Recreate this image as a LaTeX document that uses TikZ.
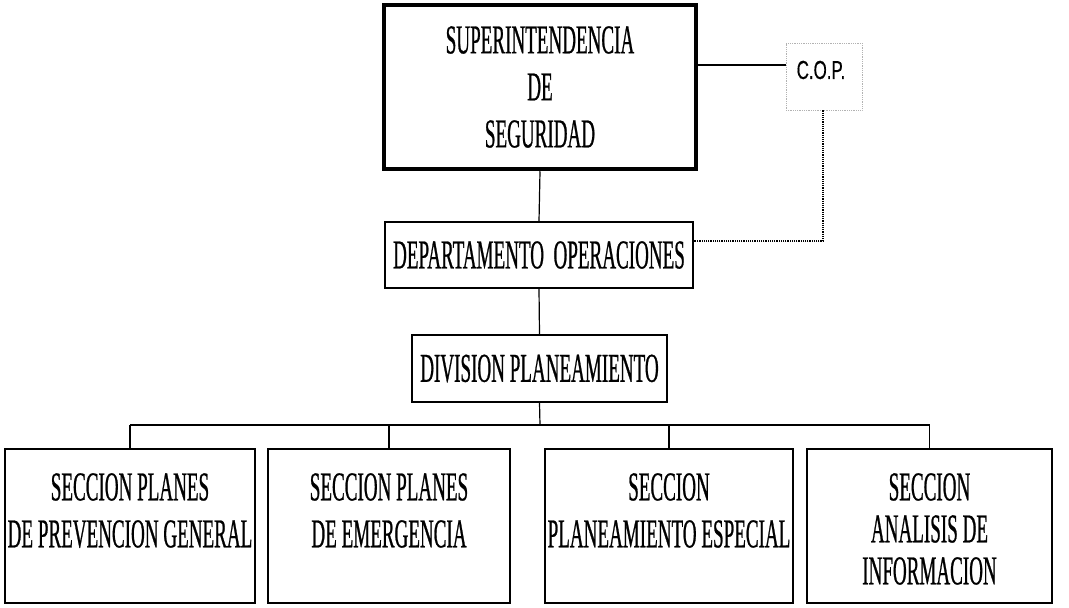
\documentclass[tikz,border=0pt]{standalone}
\usepackage{fontspec}
\setmainfont[FakeStretch=0.465,FakeBold=0.6]{Liberation Serif}
\newfontfamily\copfont[FakeStretch=0.65,FakeBold=0.4]{Liberation Sans}
\begin{document}
\begin{tikzpicture}[x=1pt,y=-1pt,
  box/.style={draw,line width=1.4pt,inner sep=0pt},
  txt/.style={font=\fontsize{41}{47}\selectfont,align=center,inner sep=0pt},
  conn/.style={line width=1.2pt}]
\useasboundingbox (0,0) rectangle (1069,608);
% top
\node[box,line width=4.5pt,minimum width=312pt,minimum height=164pt,txt,font=\fontsize{41}{47}\selectfont] (top) at (540,87) {SUPERINTENDENCIA\\DE\\SEGURIDAD};
% COP
\node[draw=gray!60,densely dotted,line width=0.8pt,minimum width=76pt,minimum height=67pt,inner sep=0pt] (cop) at (824,76.5) {};
\node[font=\copfont\fontsize{26}{30}\selectfont,inner sep=0pt] (coptxt) at (821,70) {C.O.P.};
% dept
\node[box,minimum width=308pt,minimum height=66pt,txt] (dept) at (539,255) {DEPARTAMENTO~~OPERACIONES};
% div
\node[box,minimum width=255pt,minimum height=67pt,txt] (div) at (539.5,368.5) {DIVISION PLANEAMIENTO};
% bottom boxes
\node[box,minimum width=250pt,minimum height=154pt] (b1) at (130,526) {};
\node[box,minimum width=242pt,minimum height=154pt] (b2) at (389,526) {};
\node[box,minimum width=248pt,minimum height=154pt] (b3) at (669,526) {};
\node[box,minimum width=245pt,minimum height=154pt] (b4) at (929.5,526) {};
\node[txt,anchor=north] (t1) at (130,473) {SECCION PLANES\\DE PREVENCION GENERAL};
\node[txt,anchor=north] (t2) at (389,473) {SECCION PLANES\\DE EMERGENCIA};
\node[txt,anchor=north] (t3) at (669,473) {SECCION\\PLANEAMIENTO ESPECIAL};
\node[txt,anchor=north,font=\fontsize{41}{42}\selectfont] (t4) at (929.5,473) {SECCION\\ANALISIS DE\\INFORMACION};
% connectors
\coordinate (j) at (787,65);
\draw[line width=2pt] (top.east |- j) -- (cop.west |- j);
\coordinate (dc) at (823,241);
\draw[densely dotted,line width=1.2pt] (cop.south -| dc) -- (dc) -- (dept.east |- dc);
\draw[conn] (top.south) -- (dept.north);
\draw[conn] (dept.south) -- (div.north);
\coordinate (bus) at (540,425);
\draw[conn] (div.south) -- (bus);
\draw[conn] (b1.north |- bus) -- (b4.north |- bus);
\draw[conn] (b1.north |- bus) -- (b1.north);
\draw[conn] (b2.north |- bus) -- (b2.north);
\draw[conn] (b3.north |- bus) -- (b3.north);
\draw[conn] (b4.north |- bus) -- (b4.north);
\end{tikzpicture}
\end{document}
